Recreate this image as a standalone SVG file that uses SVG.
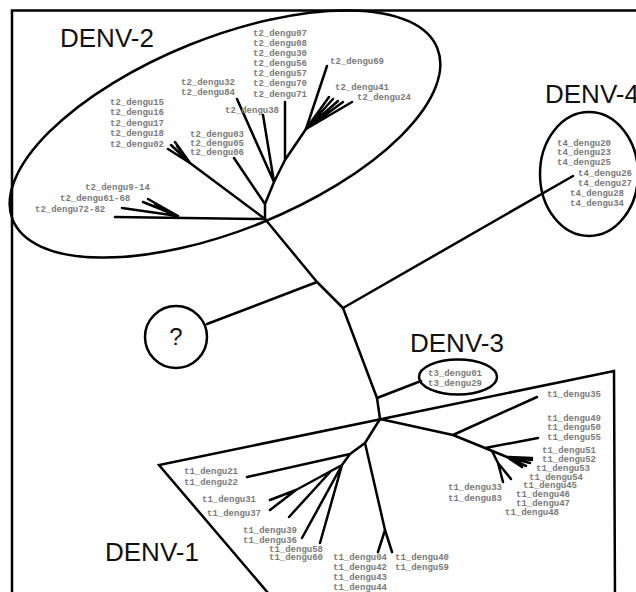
<svg xmlns="http://www.w3.org/2000/svg" width="636" height="592" viewBox="0 0 636 592">
<style>
.ln{fill:none;stroke:#000;stroke-width:2.5;stroke-linecap:round;stroke-linejoin:round}
.ol{fill:none;stroke:#000;stroke-width:2.5}
.big{font-family:"Liberation Sans",Arial,sans-serif;font-size:26px;fill:#111}
.lb{font-family:"Liberation Mono","Courier New",monospace;font-size:9px;font-weight:bold;fill:#7a7a7a}
</style>
<rect width="636" height="592" fill="#fff"/>
<path class="ol" d="M12,592 V10.5 H636"/>

<g id="connectors" class="ln">
  <polyline points="265,219 317,282 343,308 377,398 380,419"/>
  <line x1="317" y1="282" x2="207" y2="324"/>
  <line x1="343" y1="308" x2="573" y2="176"/>
  <line x1="377" y1="398" x2="421" y2="381"/>
  <path d="M265,219 L115,217 M178,216 L122,208 M178,216 L143,202 M178,216 L148,199 M178,216 L155,205"/>
  <path d="M265,219 L190,163 L168,149 M190,163 L171,145 M190,163 L175,142 M190,163 L177,146"/>
  <path d="M265,219 L265,204 L234,158 M265,204 L274,182 L237,99 M274,182 L263,115 M274,182 L285,160 L285,102 M285,160 L306,129 L327,66"/>
  <path d="M306,129 L329,97 M306,129 L333,99 M306,129 L338,101 M306,129 L343,102 M306,129 L352,102"/>
  <path d="M380,419 L453,435 L537,397 M453,435 L485,448 L538,438 M485,448 L507,457 L532,458 M507,457 L532,460 M507,457 L530,463 M507,457 L526,466 M507,457 L522,467"/>
  <path d="M492,451 L498,463 L503,482 M498,463 L511,479"/>
  <path d="M380,419 L365,443 L385,530 L378,552 M385,530 L392,552"/>
  <path d="M365,443 L350,454 L247,477 M350,454 L342,465 L331,471 L296,490 L270,500 M296,490 L270,510 M331,471 L289,517 M342,465 L302,538 M342,465 L320,543"/>
</g>

<g id="denv2">
  <ellipse class="ol" cx="225" cy="134" rx="229" ry="96" transform="rotate(-22 225 134)"/>
  <text class="big" x="60" y="46.5">DENV-2</text>
  <g class="lb">
    <text x="253" y="36.3">t2_dengu07</text>
    <text x="253" y="46.3">t2_dengu08</text>
    <text x="253" y="56.3">t2_dengu30</text>
    <text x="253" y="66.3">t2_dengu56</text>
    <text x="253" y="76.3">t2_dengu57</text>
    <text x="253" y="86.3">t2_dengu70</text>
    <text x="253" y="97">t2_dengu71</text>
    <text x="330" y="64">t2_dengu69</text>
    <text x="335" y="90">t2_dengu41</text>
    <text x="357" y="100">t2_dengu24</text>
    <text x="181" y="85">t2_dengu32</text>
    <text x="181" y="95">t2_dengu84</text>
    <text x="225" y="113">t2_dengu38</text>
    <text x="110" y="104.5">t2_dengu15</text>
    <text x="110" y="115">t2_dengu16</text>
    <text x="110" y="125.5">t2_dengu17</text>
    <text x="110" y="136">t2_dengu18</text>
    <text x="110" y="146.5">t2_dengu02</text>
    <text x="190" y="136.5">t2_dengu03</text>
    <text x="190" y="145.5">t2_dengu05</text>
    <text x="190" y="154.5">t2_dengu06</text>
    <text x="85" y="189.5">t2_dengu9-14</text>
    <text x="60" y="201">t2_dengu61-68</text>
    <text x="35" y="212">t2_dengu72-82</text>
  </g>
</g>

<g id="denv4">
  <ellipse class="ol" cx="589" cy="174" rx="49" ry="62"/>
  <text class="big" x="545" y="103">DENV-4</text>
  <g class="lb">
    <text x="557" y="145.5">t4_dengu20</text>
    <text x="557" y="155">t4_dengu23</text>
    <text x="557" y="164.5">t4_dengu25</text>
    <text x="578" y="176">t4_dengu26</text>
    <text x="578" y="185.5">t4_dengu27</text>
    <text x="570" y="195.5">t4_dengu28</text>
    <text x="570" y="205.5">t4_dengu34</text>
  </g>
</g>

<g id="unknown">
  <circle class="ol" cx="176" cy="337" r="31"/>
  <text class="big" x="176" y="345" text-anchor="middle" style="font-size:24px">?</text>
</g>

<g id="denv3">
  <ellipse class="ol" cx="458" cy="377" rx="39" ry="17.5"/>
  <text class="big" x="410" y="352">DENV-3</text>
  <g class="lb">
    <text x="428" y="375.5">t3_dengu01</text>
    <text x="428" y="386">t3_dengu29</text>
  </g>
</g>

<g id="denv1">
  <polyline class="ol" points="274,600 159,465 614,371 615,600"/>
  <text class="big" x="105" y="561">DENV-1</text>
  <g class="lb">
    <text x="547" y="397">t1_dengu35</text>
    <text x="547" y="421">t1_dengu49</text>
    <text x="547" y="430">t1_dengu50</text>
    <text x="547" y="439.5">t1_dengu55</text>
    <text x="542" y="453">t1_dengu51</text>
    <text x="542" y="461.5">t1_dengu52</text>
    <text x="536" y="470.5">t1_dengu53</text>
    <text x="529" y="479.5">t1_dengu54</text>
    <text x="523" y="488">t1_dengu45</text>
    <text x="516" y="497">t1_dengu46</text>
    <text x="516" y="505.5">t1_dengu47</text>
    <text x="505" y="514.5">t1_dengu48</text>
    <text x="448" y="489.5">t1_dengu33</text>
    <text x="448" y="501">t1_dengu83</text>
    <text x="184" y="474">t1_dengu21</text>
    <text x="184" y="484.5">t1_dengu22</text>
    <text x="202" y="502">t1_dengu31</text>
    <text x="207" y="516">t1_dengu37</text>
    <text x="243" y="533">t1_dengu39</text>
    <text x="243" y="543">t1_dengu36</text>
    <text x="269" y="552">t1_dengu58</text>
    <text x="269" y="559.5">t1_dengu60</text>
    <text x="333" y="560">t1_dengu04</text>
    <text x="333" y="570">t1_dengu42</text>
    <text x="333" y="580">t1_dengu43</text>
    <text x="333" y="590">t1_dengu44</text>
    <text x="395" y="560">t1_dengu40</text>
    <text x="395" y="570">t1_dengu59</text>
  </g>
</g>
</svg>
